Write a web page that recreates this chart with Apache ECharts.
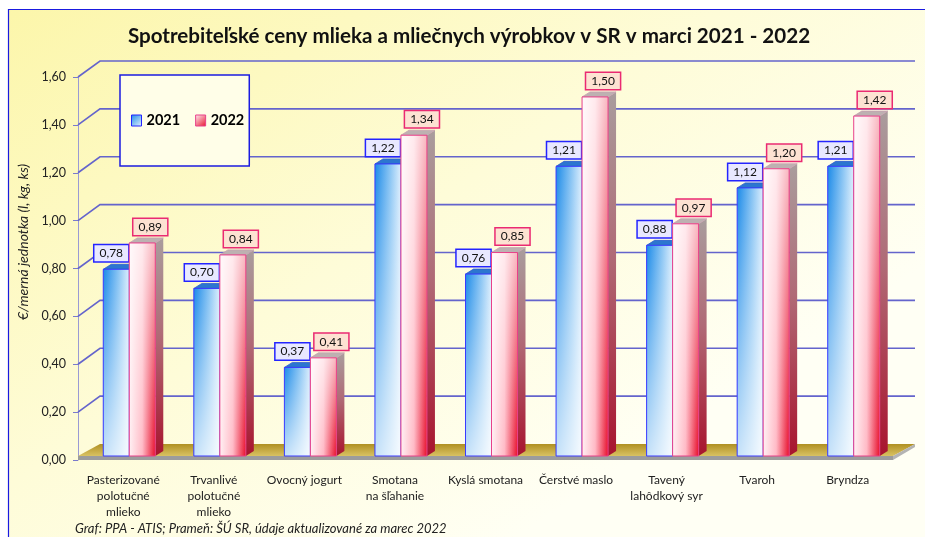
<!DOCTYPE html>
<html>
<head>
<meta charset="utf-8">
<script src="https://cdn.jsdelivr.net/npm/echarts@6/dist/echarts.min.js"></script>
<style>
  html, body { margin: 0; padding: 0; background: #fff; }
  #chart { width: 925px; height: 537px; }
</style>
</head>
<body>
<div id="chart"></div>
<script>
const categories = [
  "Pasterizované\npolotučné\nmlieko",
  "Trvanlivé\npolotučné\nmlieko",
  "Ovocný jogurt",
  "Smotana\nna šľahanie",
  "Kyslá smotana",
  "Čerstvé maslo",
  "Tavený\nlahôdkový syr",
  "Tvaroh",
  "Bryndza",
];
const values2021 = [0.78, 0.70, 0.37, 1.22, 0.76, 1.21, 0.88, 1.12, 1.21];
const values2022 = [0.89, 0.84, 0.41, 1.34, 0.85, 1.50, 0.97, 1.20, 1.42];
const yTicks = [0, 0.2, 0.4, 0.6, 0.8, 1.0, 1.2, 1.4, 1.6];

const FONT = "Lato, 'Open Sans', sans-serif";
const LG = echarts.graphic.LinearGradient;

// hĺbka zadnej steny a stĺpcov
const WALL_DX = 22, WALL_DY = -16;
const BAR_W = 26, BAR_DX = 8, BAR_DY = -5;

const fmt = (v) => v.toFixed(2).replace(".", ",");

// zadná stena + podlaha
function renderWall(params, api) {
  const cs = params.coordSys;
  const x0 = cs.x, x1 = cs.x + cs.width;
  const y = api.coord([0, api.value(1)])[1];
  if (api.value(1) === 0) {
    return {
      type: "group",
      children: [
        {
          type: "polygon",
          shape: { points: [[x0, y - 4], [x0 + WALL_DX, y + WALL_DY], [x1 + WALL_DX, y + WALL_DY], [x1, y - 4]] },
          style: { fill: new LG(0, 0, 0, 1, [{ offset: 0, color: "#b09022" }, { offset: 1, color: "#d9c263" }]) },
        },
        { type: "rect", shape: { x: x0, y: y - 4, width: x1 - x0, height: 4 }, style: { fill: "#9c9c9c" } },
        {
          type: "polygon",
          shape: { points: [[x1, y - 4], [x1 + WALL_DX, y + WALL_DY], [x1 + WALL_DX, y + WALL_DY + 3], [x1, y]] },
          style: { fill: "#b4b4b4" },
        },
      ],
    };
  }
  return {
    type: "polyline",
    shape: { points: [[x0, y], [x0 + WALL_DX, y + WALL_DY], [x1 + WALL_DX, y + WALL_DY]] },
    style: { stroke: "#6464cc", lineWidth: 1.6, fill: null },
  };
}

function makeBarRenderer(isRed) {
  return function (params, api) {
    const c = api.coord([api.value(0), api.value(1)]);
    const base = api.coord([api.value(0), 0])[1] - 4;
    const top = c[1] - 4;
    const xl = isRed ? c[0] + 6 : c[0] - 20;
    const h = base - top;
    const children = [];
    const front = isRed
      ? new LG(0, 0, 1, 0, [{ offset: 0, color: "#fff0f3" }, { offset: 0.5, color: "#ffb9c5" }, { offset: 1, color: "#e80f2c" }])
      : new LG(0, 0, 1, 0, [{ offset: 0, color: "#1b8ae8" }, { offset: 0.6, color: "#8cc6f4" }, { offset: 1, color: "#dceefd" }]);
    const overlay = isRed
      ? new LG(0, 0, 0, 1, [{ offset: 0, color: "rgba(255,255,255,0.7)" }, { offset: 1, color: "rgba(255,255,255,0)" }])
      : new LG(0, 0, 0, 1, [{ offset: 0, color: "rgba(255,255,255,0)" }, { offset: 1, color: "rgba(255,255,255,0.75)" }]);
    const border = isRed ? "#e8408a" : "#3a3aff";

    if (isRed) {
      children.push({
        type: "polygon",
        shape: { points: [[xl + BAR_W, top], [xl + BAR_W + BAR_DX, top + BAR_DY], [xl + BAR_W + BAR_DX, base + BAR_DY], [xl + BAR_W, base]] },
        style: { fill: new LG(0, 0, 0, 1, [{ offset: 0, color: "#a99d9d" }, { offset: 0.45, color: "#b06a76" }, { offset: 1, color: "#a8142e" }]) },
      });
    }
    children.push({
      type: "polygon",
      shape: { points: [[xl, top], [xl + BAR_DX, top + BAR_DY], [xl + BAR_W + BAR_DX, top + BAR_DY], [xl + BAR_W, top]] },
      style: { fill: isRed ? "#bdb1b1" : "#2c76cf", stroke: isRed ? "#c8a0b0" : "#2c5ccf", lineWidth: 0.8 },
    });
    children.push({ type: "rect", shape: { x: xl, y: top, width: BAR_W, height: h }, style: { fill: front } });
    children.push({ type: "rect", shape: { x: xl, y: top, width: BAR_W, height: h }, style: { fill: overlay, stroke: border, lineWidth: 1 } });
    children.push({
      type: "text",
      style: {
        text: fmt(api.value(1)),
        x: isRed ? c[0] + 27 : c[0] - 12,
        y: top + BAR_DY - 3,
        align: "center",
        verticalAlign: "bottom",
        font: "12px " + FONT,
        fill: "#111",
        backgroundColor: isRed ? "#fde2d2" : "#e8e8ff",
        borderColor: isRed ? "#ea2a72" : "#2424ff",
        borderWidth: 1.5,
        padding: [2, 5, 2, 5],
      },
      z2: 10,
    });
    return { type: "group", children };
  };
}

const chart = echarts.init(document.getElementById("chart"));

const option = {
  animation: false,
  graphic: [
    {
      type: "rect",
      z: -10,
      shape: { x: 8.5, y: 9.5, width: 1000, height: 600 },
      style: {
        fill: new LG(0, 0, 0.4, 1, [
          { offset: 0, color: "#fcf6aa" },
          { offset: 0.55, color: "#fefcd8" },
          { offset: 1, color: "#fffff4" },
        ]),
        stroke: "#1a1ae0",
        lineWidth: 1.2,
      },
    },
    {
      type: "text",
      style: {
        text: "Spotrebiteľské ceny mlieka a mliečnych výrobkov v SR v marci 2021 - 2022",
        x: 469,
        y: 36,
        align: "center",
        verticalAlign: "middle",
        font: "bold 20.6px " + FONT,
        fill: "#111",
      },
    },
    {
      type: "text",
      x: 23,
      y: 242,
      rotation: Math.PI / 2,
      style: {
        text: "€/merná jednotka (l, kg, ks)",
        x: 0,
        y: 0,
        align: "center",
        verticalAlign: "middle",
        font: "italic 14px " + FONT,
        fill: "#222",
      },
    },
    {
      type: "text",
      style: {
        text: "Graf: PPA - ATIS; Prameň: ŠÚ SR, údaje aktualizované za marec 2022",
        x: 75,
        y: 529,
        verticalAlign: "middle",
        font: "italic 13px " + FONT,
        fill: "#222",
      },
    },
  ],
  legend: {
    left: 120,
    top: 75,
    orient: "horizontal",
    padding: [38, 5, 38, 11],
    itemGap: 15,
    itemWidth: 10,
    itemHeight: 11,
    icon: "rect",
    backgroundColor: "#fffee8",
    borderColor: "#1c1ce0",
    borderWidth: 1.5,
    textStyle: { fontFamily: FONT, fontSize: 14.5, fontWeight: "bold", color: "#000" },
    data: [
      {
        name: "2021",
        itemStyle: {
          color: new LG(0, 0, 1, 1, [{ offset: 0, color: "#1b8ae8" }, { offset: 1, color: "#e8f4ff" }]),
          borderColor: "#2424ff",
          borderWidth: 1,
        },
      },
      {
        name: "2022",
        itemStyle: {
          color: new LG(0, 0, 1, 1, [{ offset: 0, color: "#fff4f6" }, { offset: 1, color: "#e8102c" }]),
          borderColor: "#e8408a",
          borderWidth: 1,
        },
      },
    ],
  },
  grid: { left: 78, right: 32, top: 77, bottom: 77 },
  xAxis: {
    type: "category",
    data: categories,
    axisLine: { show: false },
    axisTick: { show: false },
    axisLabel: { interval: 0, fontFamily: FONT, fontSize: 12, color: "#222", lineHeight: 16, margin: 12 },
  },
  yAxis: {
    type: "value",
    min: 0,
    max: 1.6,
    interval: 0.2,
    axisLine: { show: true, lineStyle: { color: "#9a9ad4", width: 1 } },
    axisTick: { show: true, length: 5, lineStyle: { color: "#7a7acc" } },
    splitLine: { show: false },
    axisLabel: { fontFamily: FONT, fontSize: 12.5, color: "#222", margin: 12, formatter: fmt },
  },
  series: [
    {
      name: "wall",
      type: "custom",
      renderItem: renderWall,
      data: yTicks.map((t) => [0, t]),
      silent: true,
      z: 1,
    },
    {
      name: "2021",
      type: "custom",
      renderItem: makeBarRenderer(false),
      data: values2021.map((v, i) => [i, v]),
      z: 3,
    },
    {
      name: "2022",
      type: "custom",
      renderItem: makeBarRenderer(true),
      data: values2022.map((v, i) => [i, v]),
      z: 4,
    },
  ],
};

chart.setOption(option);
window.addEventListener("resize", () => chart.resize());
</script>
</body>
</html>
